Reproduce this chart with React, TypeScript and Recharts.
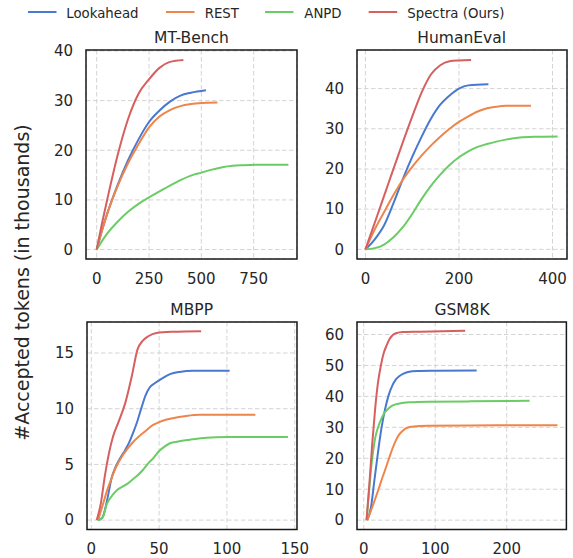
import React from "react";
import { LineChart, Line, XAxis, YAxis, CartesianGrid, ReferenceArea } from "recharts";

const seriesNames = ["Lookahead", "REST", "ANPD", "Spectra (Ours)"];
const seriesColors = ["#4878d0", "#ee854a", "#6acc64", "#d65f5f"];
const yLabel = "#Accepted tokens (in thousands)";

// MT-Bench
const mtLookahead = [[0,0],[25,3.8],[50,7.2],[100,13],[150,18],[200,22.2],[250,25.7],[300,28],[350,29.8],[400,31],[450,31.6],[522,32.1]];
const mtRest = [[0,0],[25,3.8],[50,7.2],[100,12.8],[150,17.4],[200,21.2],[250,24.6],[300,26.8],[350,28.1],[400,28.9],[450,29.3],[500,29.5],[577,29.6]];
const mtAnpd = [[0,0],[25,1.7],[50,3.2],[100,5.6],[150,7.6],[200,9.2],[250,10.5],[300,11.7],[350,12.9],[400,14],[450,14.9],[500,15.5],[550,16.1],[600,16.6],[650,16.9],[700,17.0],[800,17.1],[916,17.1]];
const mtSpectra = [[0,0],[25,5.2],[50,10],[100,19],[150,26.3],[200,31.4],[250,34.3],[300,36.6],[350,37.8],[414,38.2]];

// HumanEval
const heLookahead = [[0,0],[20,2.5],[40,6],[60,11.5],[80,17.5],[100,23],[120,28],[140,32.5],[160,36],[180,38.3],[200,40],[220,40.8],[263,41.1]];
const heRest = [[0,0],[20,5],[40,9.3],[60,13.5],[80,17.3],[100,20.5],[120,23.3],[140,25.8],[160,28],[180,30],[200,31.7],[220,33.1],[240,34.3],[260,35.1],[280,35.5],[300,35.7],[354,35.7]];
const heAnpd = [[0,0],[20,0.3],[40,1.2],[60,3],[80,5.5],[100,8.8],[120,12.5],[140,15.8],[160,18.6],[180,21],[200,22.9],[220,24.4],[240,25.5],[260,26.2],[280,26.8],[300,27.3],[330,27.8],[360,28],[411,28.1]];
const heSpectra = [[0,0],[25,8.3],[50,16.7],[75,25],[100,33],[120,39],[140,43.5],[160,45.8],[180,46.8],[200,47.0],[226,47.1]];

// MBPP
const mbLookahead = [[5,0],[8,0.2],[10,0.9],[12,2],[15,3.8],[18,4.8],[21,5.5],[25,6.3],[28,7],[31,7.9],[34,8.9],[37,10.1],[40,11.2],[43,11.9],[47,12.3],[52,12.7],[58,13.1],[65,13.3],[75,13.4],[102,13.4]];
const mbRest = [[5,0],[7,0.8],[9,1.6],[12,2.8],[15,3.8],[18,4.7],[22,5.6],[26,6.3],[30,6.9],[35,7.5],[40,8],[45,8.5],[50,8.8],[55,9.0],[60,9.15],[70,9.35],[80,9.45],[121,9.45]];
const mbAnpd = [[5,0],[7,0.1],[9,0.4],[11,1.3],[13,1.8],[16,2.3],[19,2.7],[23,3.0],[27,3.3],[30,3.6],[34,4.0],[38,4.5],[42,5.1],[46,5.6],[50,6.2],[54,6.6],[58,6.9],[64,7.05],[72,7.2],[85,7.4],[100,7.45],[145,7.47]];
const mbSpectra = [[4,0],[7,1.5],[10,4],[13,6],[16,7.5],[20,8.8],[25,10.5],[30,13],[34,15.3],[38,16.1],[42,16.5],[48,16.8],[60,16.9],[81,16.95]];

// GSM8K
const gsLookahead = [[5,0],[10,4],[15,13],[20,22],[25,30],[30,36],[35,40.5],[40,43.5],[45,45.5],[50,46.6],[55,47.3],[62,47.9],[75,48.2],[100,48.3],[158,48.4]];
const gsRest = [[5,0],[10,3],[15,6.2],[20,9.5],[25,13],[30,16.3],[35,19.7],[40,23],[45,25.8],[50,27.8],[55,29],[60,29.8],[70,30.3],[90,30.5],[150,30.6],[271,30.7]];
const gsAnpd = [[4,0],[7,8],[10,16],[13,22],[16,26.5],[20,30],[25,33],[30,35],[35,36.2],[40,37],[50,37.7],[65,38.1],[90,38.3],[150,38.4],[232,38.6]];
const gsSpectra = [[4,0],[8,12],[12,25],[16,36],[20,44.5],[24,50],[28,54],[32,56.5],[36,58.5],[40,59.7],[45,60.4],[55,60.8],[80,60.9],[142,61.2]];

const titles = ["MT-Bench", "HumanEval", "MBPP", "GSM8K"];
const xTicksList = [[0, 250, 500, 750], [0, 200, 400], [0, 50, 100, 150], [0, 100, 200]];
const yTicksList = [[0, 10, 20, 30, 40], [0, 10, 20, 30, 40], [0, 5, 10, 15], [0, 10, 20, 30, 40, 50, 60]];
const xDomains = [[-51, 957], [-18, 431], [-3.2, 151.7], [-9.4, 283.5]];
const yDomains = [[-1.9, 40.2], [-2.4, 49.6], [-0.85, 17.78], [-3.05, 64.05]];
const panelSeries = [
  [mtLookahead, mtRest, mtAnpd, mtSpectra],
  [heLookahead, heRest, heAnpd, heSpectra],
  [mbLookahead, mbRest, mbAnpd, mbSpectra],
  [gsLookahead, gsRest, gsAnpd, gsSpectra],
];

// plot-area rectangles (left, top, width, height)
const plotRects = [
  [86, 50, 211, 209],
  [356.7, 50, 210, 209],
  [86.7, 321.7, 210, 207.6],
  [357.3, 321.7, 209.4, 207.6],
];

const FONT = "'DejaVu Sans', sans-serif";
const TEXT = "#262626";
const YW = 60;
const XH = 32;
const MT = 14;
const MR = 30;

function Panel({ idx }: { idx: number }) {
  const [pl, pt, pw, ph] = plotRects[idx];
  const xd = xDomains[idx];
  const yd = yDomains[idx];
  const width = YW + pw + MR;
  const height = MT + ph + XH;
  return (
    <div style={{ position: "absolute", left: pl - YW, top: pt - MT, width, height }}>
      <LineChart width={width} height={height} margin={{ top: MT, right: MR, bottom: 0, left: 0 }}>
        <CartesianGrid stroke="#d4d4d4" strokeDasharray="4.5 2.5" strokeWidth={1} />
        <XAxis
          type="number"
          dataKey="x"
          domain={xd}
          allowDataOverflow
          ticks={xTicksList[idx]}
          height={XH}
          axisLine={false}
          tickLine={false}
          tickSize={6}
          tickMargin={8}
          tick={{ fill: TEXT, fontSize: 15, fontFamily: FONT }}
        />
        <YAxis
          type="number"
          dataKey="y"
          domain={yd}
          allowDataOverflow
          ticks={yTicksList[idx]}
          width={YW}
          axisLine={false}
          tickLine={false}
          tickSize={6}
          tickMargin={7}
          tick={{ fill: TEXT, fontSize: 15, fontFamily: FONT }}
        />
        {panelSeries[idx].map((s, i) => (
          <Line
            key={seriesNames[i]}
            data={s.map(([x, y]) => ({ x, y }))}
            dataKey="y"
            type="monotone"
            stroke={seriesColors[i]}
            strokeWidth={2}
            dot={false}
            activeDot={false}
            isAnimationActive={false}
          />
        ))}
        <ReferenceArea
          x1={xd[0]}
          x2={xd[1]}
          y1={yd[0]}
          y2={yd[1]}
          fill="none"
          fillOpacity={0}
          stroke="#1a1a1a"
          strokeWidth={1.5}
          ifOverflow="visible"
        />
      </LineChart>
    </div>
  );
}

const legendLineX = [28, 166, 265, 368.7];
const legendTextX = [66.3, 204.7, 304.3, 407.3];

export default function App() {
  return (
    <div style={{ position: "absolute", left: 0, top: 0, width: 573, height: 558, background: "#fff", overflow: "hidden" }}>
      {[0, 1, 2, 3].map((i) => (
        <Panel key={i} idx={i} />
      ))}
      <svg width={573} height={558} style={{ position: "absolute", left: 0, top: 0, pointerEvents: "none" }}>
        {seriesNames.map((n, i) => (
          <g key={n}>
            <line x1={legendLineX[i]} x2={legendLineX[i] + 28.5} y1={12} y2={12} stroke={seriesColors[i]} strokeWidth={2} />
            <text x={legendTextX[i]} y={17.5} fontSize={13.3} fontFamily={FONT} fill={TEXT}>{n}</text>
          </g>
        ))}
        {titles.map((t, i) => {
          const [pl, pt, pw] = plotRects[i];
          return (
            <text key={t} x={pl + pw / 2} y={pt - 6.7} textAnchor="middle" fontSize={15.5} fontFamily={FONT} fill={TEXT}>
              {t}
            </text>
          );
        })}
        <text
          x={29.3}
          y={282.5}
          transform="rotate(-90, 29.3, 282.5)"
          textAnchor="middle"
          fontSize={19}
          fontFamily={FONT}
          fill={TEXT}
        >
          {yLabel}
        </text>
      </svg>
    </div>
  );
}
